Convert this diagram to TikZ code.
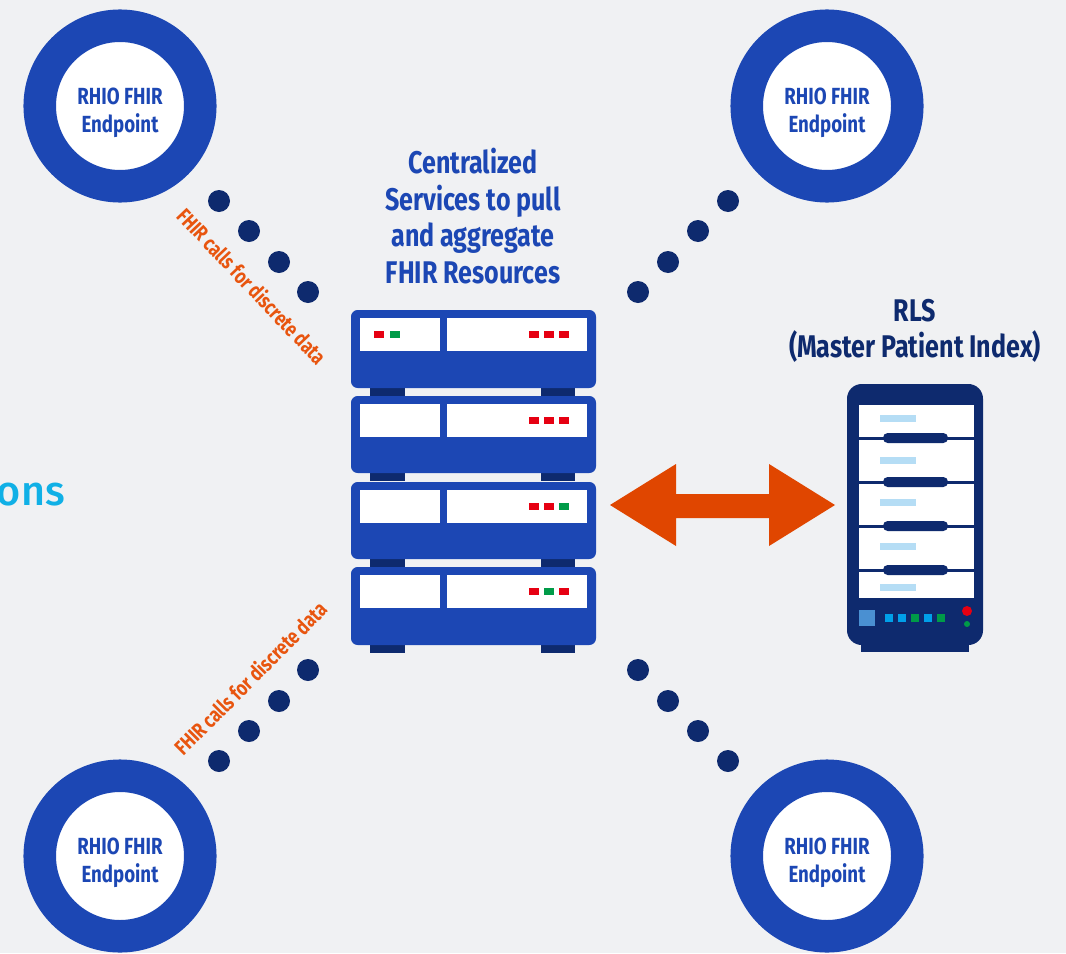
\documentclass[tikz,border=0pt]{standalone}
\usepackage{fontspec}
\setmainfont{Fira Sans}
\newfontfamily\condfont[FakeStretch=0.8,UprightFont=* Bold]{Fira Sans}
\newfontfamily\plainfont[UprightFont=* Medium]{Fira Sans}
\definecolor{bgc}{HTML}{F0F1F3}
\definecolor{royal}{HTML}{1C47B4}
\definecolor{navy}{HTML}{0E2A6E}
\definecolor{orangec}{HTML}{E04600}
\definecolor{labelc}{HTML}{E8550F}
\definecolor{cyanc}{HTML}{10B0E6}
\definecolor{ledr}{HTML}{E60012}
\definecolor{ledg}{HTML}{009B48}
\definecolor{ledb}{HTML}{00A0E9}
\definecolor{barc}{HTML}{B5DDF5}
\definecolor{sqc}{HTML}{4A90D2}
\tikzset{
  x=0.75pt,y=-0.75pt,
  endpoint/.style={circle,draw=royal,line width=24.4pt,fill=white,minimum size=120.4pt,inner sep=0pt,outer sep=0pt,
    label={[align=center,text=royal,inner sep=0pt,yshift=-4.9pt,font=\condfont\fontsize{17.5}{21}\selectfont]center:RHIO FHIR\\Endpoint}},
  dotc/.style={circle,fill=navy,minimum size=16.5pt,inner sep=0pt},
  title/.style={align=center,text=royal,font=\condfont\fontsize{23.5}{27.5}\selectfont},
  ttl/.style={align=center,text=navy,font=\condfont\fontsize{23.5}{27}\selectfont},
  calllabel/.style={text=labelc,inner sep=0pt,font=\condfont\fontsize{15.8}{18}\selectfont},
  panel/.style={fill=white},
  foot/.style={fill=navy},
  chassis/.style={fill=royal,rounded corners=5pt},
}
\newcommand{\led}[3]{\fill[#1] (#2-5,#3-3.5) rectangle (#2+5,#3+3.5);}
\begin{document}
\begin{tikzpicture}
\fill[bgc] (0,0) rectangle (1066,953);
\useasboundingbox (0,0) rectangle (1066,953);
\begin{scope}
\clip (0,0) rectangle (1066,953);
\node[anchor=base east,text=cyanc,inner sep=0pt,font=\plainfont\fontsize{31}{36}\selectfont] (cut) at (65,505) {ons};
\end{scope}
% endpoints
\node[endpoint] (tl) at (120,106) {};
\node[endpoint] (tr) at (827,106) {};
\node[endpoint] (bl) at (120,856) {};
\node[endpoint] (br) at (827,856) {};
% dots
\foreach \n/\x/\y in {a1/219/201,a2/249/231,a3/279/262,a4/308/292,
  b1/728/201,b2/698/231,b3/668/262,b4/638/292,
  c1/308/670,c2/279/701,c3/249/731,c4/219/761,
  d1/638/670,d2/668/701,d3/698/731,d4/728/761}
  \node[dotc] (\n) at (\x,\y) {};
% labels
\node[calllabel,rotate=-46.5] (l1) at (252,286) {FHIR calls for discrete data};
\node[calllabel,rotate=45] (l2) at (250,678) {FHIR calls for discrete data};
\node[title] (central) at (473,216) {Centralized\\Services to pull\\and aggregate\\FHIR Resources};
\node[ttl] (rls) at (915,331) {RLS\\(Master Patient Index)};
% server feet
\foreach \y in {388,473,559,645}{
  \fill[foot] (370,\y-2) rectangle (405,\y+8);
  \fill[foot] (541,\y-2) rectangle (575,\y+8);
}
% server units
\foreach \t/\b in {310/388,396/473,482/559,567/645}{
  \fill[chassis] (351,\t) rectangle (596,\b);
  \fill[panel] (360,\t+8) rectangle (440,\t+41);
  \fill[panel] (447,\t+8) rectangle (587,\t+41);
}
\led{ledr}{379}{334.5}\led{ledg}{395}{334.5}
\led{ledr}{534}{334.5}\led{ledr}{549}{334.5}\led{ledr}{564}{334.5}
\led{ledr}{534}{420}\led{ledr}{549}{420}\led{ledr}{564}{420}
\led{ledr}{534}{506}\led{ledr}{549}{506}\led{ledg}{564}{506}
\led{ledr}{534}{591}\led{ledg}{549}{591}\led{ledr}{564}{591}
% rack
\fill[navy] (861,640) rectangle (969,652);
\fill[navy,rounded corners=11pt] (847,384) rectangle (983,645);
\fill[white] (859,405) rectangle (974,598);
\foreach \y in {438,482,526,570}{
  \fill[navy] (859,\y-1.5) rectangle (974,\y+1.5);
  \fill[navy,rounded corners=3.5pt] (883,\y-5) rectangle (948,\y+5);
}
\foreach \y in {418,460,502,546,587}
  \fill[barc] (880,\y-3.5) rectangle (916,\y+3.5);
\fill[sqc] (859,610) rectangle (875,626);
\foreach \x/\c in {889/ledb,902/ledb,915/ledg,928/ledb,941/ledg}
  \fill[\c] (\x-4,618-4) rectangle (\x+4,618+4);
\fill[ledr] (967,611) circle[radius=5];
\fill[ledg] (967,624) circle[radius=3];
% arrow
\fill[orangec] (610,505) -- (676,464) -- (676,494) -- (769,494) -- (769,464) -- (835,505) -- (769,546) -- (769,518) -- (676,518) -- (676,546) -- cycle;
\end{tikzpicture}
\end{document}
